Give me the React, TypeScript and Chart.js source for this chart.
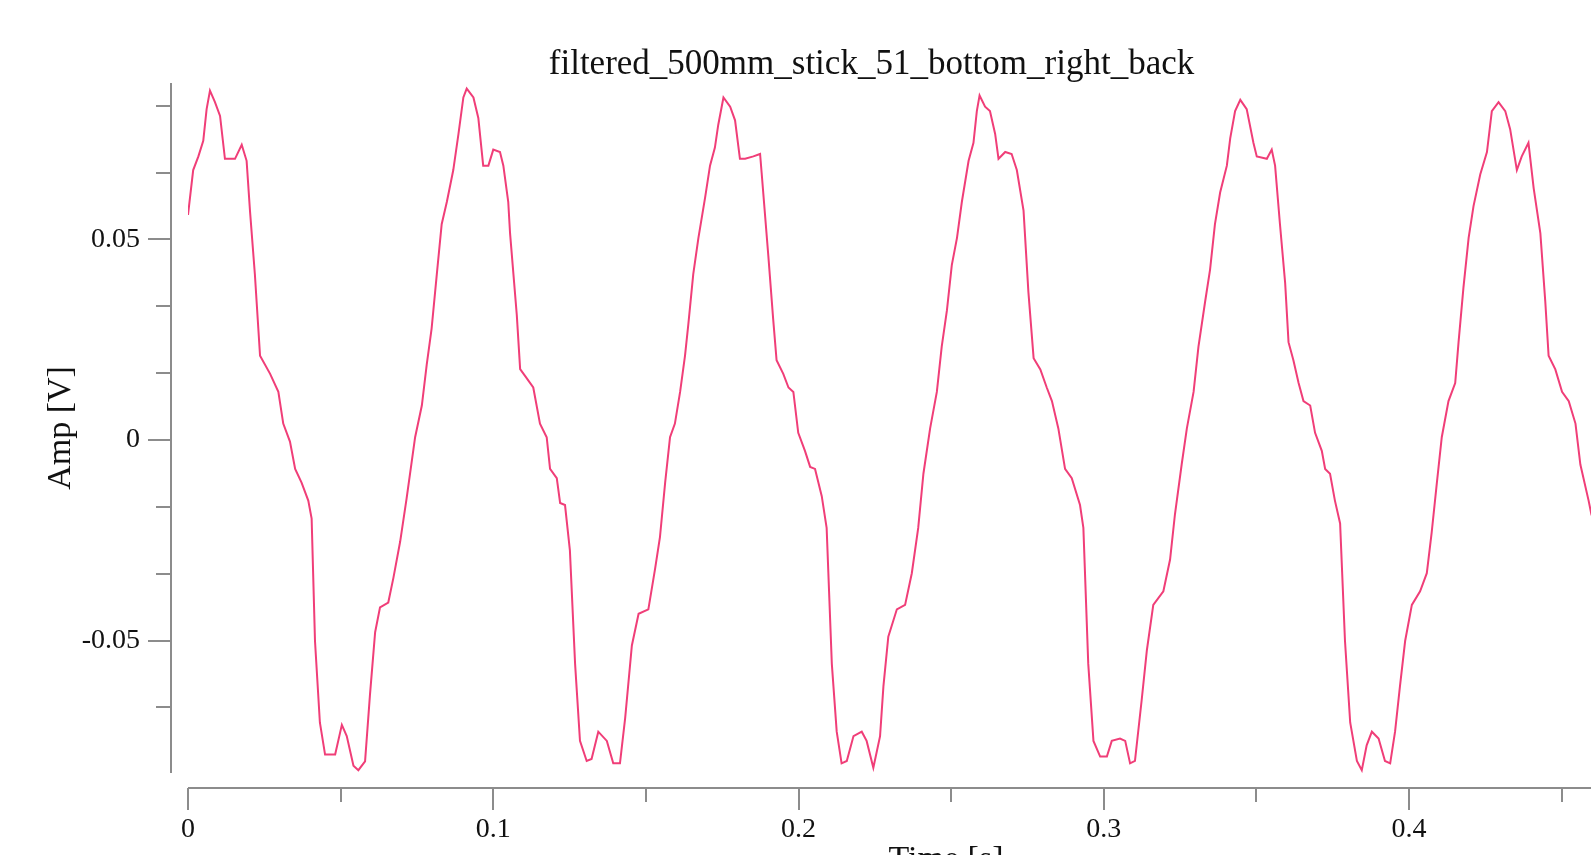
import React, { useEffect, useRef } from 'react';
import { Chart, registerables } from 'chart.js';

Chart.register(...registerables);

const chartTitle = 'filtered_500mm_stick_51_bottom_right_back';
const xAxisTitle = 'Time [s]';
const yAxisTitle = 'Amp [V]';

const xTickValues = [0, 0.1, 0.2, 0.3, 0.4];
const xTickLabels = ['0', '0.1', '0.2', '0.3', '0.4'];
const yTickValues = [-0.05, 0, 0.05];
const yTickLabels = ['-0.05', '0', '0.05'];

const timeValues = [
  0.0000, 0.0017, 0.0034, 0.0050, 0.0061, 0.0072, 0.0088, 0.0105, 0.0121, 0.0154,
  0.0176, 0.0192, 0.0203, 0.0219, 0.0236, 0.0269, 0.0296, 0.0312, 0.0334, 0.0351,
  0.0372, 0.0394, 0.0405, 0.0416, 0.0432, 0.0449, 0.0482, 0.0504, 0.0520, 0.0542,
  0.0558, 0.0580, 0.0596, 0.0613, 0.0629, 0.0656, 0.0673, 0.0695, 0.0716, 0.0744,
  0.0766, 0.0782, 0.0798, 0.0815, 0.0831, 0.0848, 0.0869, 0.0886, 0.0902, 0.0913,
  0.0935, 0.0951, 0.0967, 0.0984, 0.1000, 0.1022, 0.1033, 0.1049, 0.1055, 0.1077,
  0.1088, 0.1104,
  0.1131, 0.1153, 0.1175, 0.1186, 0.1208, 0.1219, 0.1235, 0.1251, 0.1268, 0.1284,
  0.1306, 0.1322, 0.1344, 0.1372, 0.1393, 0.1415, 0.1432, 0.1454, 0.1476, 0.1508,
  0.1530, 0.1546, 0.1563, 0.1579, 0.1595, 0.1612, 0.1628, 0.1639, 0.1655, 0.1672,
  0.1694, 0.1710, 0.1726, 0.1737, 0.1754, 0.1776, 0.1792, 0.1808, 0.1825, 0.1852,
  0.1874, 0.1879, 0.1901, 0.1917, 0.1928, 0.1950, 0.1967, 0.1983, 0.1999, 0.2021,
  0.2038, 0.2054, 0.2076, 0.2092, 0.2109, 0.2125, 0.2141, 0.2158, 0.2180, 0.2207,
  0.2223, 0.2245, 0.2267,
  0.2278, 0.2294, 0.2322, 0.2349, 0.2371, 0.2392, 0.2409, 0.2431, 0.2453, 0.2469,
  0.2486, 0.2502, 0.2519, 0.2535, 0.2557, 0.2573, 0.2584, 0.2593, 0.2611, 0.2627,
  0.2644, 0.2655, 0.2677, 0.2698, 0.2715, 0.2737, 0.2753, 0.2770, 0.2792, 0.2813,
  0.2830, 0.2851, 0.2873, 0.2895, 0.2922, 0.2933, 0.2949, 0.2966, 0.2988, 0.3010,
  0.3026, 0.3053, 0.3070, 0.3086, 0.3102, 0.3124, 0.3141, 0.3162, 0.3195, 0.3217,
  0.3233, 0.3255, 0.3272, 0.3294, 0.3310, 0.3332, 0.3348, 0.3364, 0.3381, 0.3403,
  0.3414, 0.3430, 0.3447, 0.3468, 0.3490, 0.3501, 0.3534, 0.3550, 0.3561, 0.3577,
  0.3594, 0.3605, 0.3621, 0.3638, 0.3654, 0.3676, 0.3692, 0.3714, 0.3725, 0.3741,
  0.3757, 0.3774, 0.3790, 0.3807, 0.3829, 0.3845, 0.3861, 0.3878, 0.3900, 0.3921,
  0.3938, 0.3954, 0.3970, 0.3987, 0.4009, 0.4036, 0.4058, 0.4074, 0.4091, 0.4107,
  0.4129, 0.4151, 0.4162, 0.4178, 0.4195, 0.4211, 0.4233, 0.4255, 0.4271, 0.4293,
  0.4315, 0.4331, 0.4353, 0.4369, 0.4391, 0.4408, 0.4430, 0.4446, 0.4457, 0.4479,
  0.4501, 0.4523, 0.4545, 0.4561, 0.4588, 0.4597, 0.4612,
];

const ampValues = [
  0.0561, 0.0673, 0.0707, 0.0746, 0.0825, 0.0871, 0.0843, 0.0808, 0.0701, 0.0701,
  0.0736, 0.0696, 0.0572, 0.0414, 0.0210, 0.0165, 0.0120, 0.0041, -0.0004, -0.0072,
  -0.0106, -0.0151, -0.0196, -0.0501, -0.0704, -0.0784, -0.0784, -0.0710, -0.0738, -0.0812,
  -0.0823, -0.0801, -0.0636, -0.0479, -0.0417, -0.0405, -0.0343, -0.0253, -0.0146, 0.0007,
  0.0086, 0.0188, 0.0278, 0.0413, 0.0538, 0.0594, 0.0673, 0.0763, 0.0854, 0.0876,
  0.0854, 0.0803, 0.0684, 0.0684, 0.0724, 0.0718, 0.0684, 0.0594, 0.0515, 0.0312,
  0.0177, 0.0160,
  0.0131, 0.0041, 0.0007, -0.0072, -0.0095, -0.0157, -0.0162, -0.0275, -0.0558, -0.0750,
  -0.0800, -0.0795, -0.0727, -0.0750, -0.0806, -0.0806, -0.0693, -0.0512, -0.0433, -0.0422,
  -0.0321, -0.0242, -0.0106, 0.0007, 0.0041, 0.0120, 0.0210, 0.0289, 0.0413, 0.0504,
  0.0605, 0.0684, 0.0729, 0.0786, 0.0854, 0.0831, 0.0797, 0.0701, 0.0701, 0.0707,
  0.0713, 0.0667, 0.0459, 0.0300, 0.0199, 0.0165, 0.0131, 0.0120, 0.0018, -0.0027,
  -0.0067, -0.0072, -0.0140, -0.0219, -0.0558, -0.0727, -0.0806, -0.0800, -0.0738, -0.0727,
  -0.0750, -0.0817, -0.0738,
  -0.0614, -0.0490, -0.0422, -0.0411, -0.0332, -0.0219, -0.0084, 0.0029, 0.0120, 0.0233,
  0.0323, 0.0436, 0.0504, 0.0594, 0.0696, 0.0741, 0.0820, 0.0859, 0.0831, 0.0820,
  0.0763, 0.0701, 0.0718, 0.0713, 0.0673, 0.0572, 0.0368, 0.0204, 0.0176, 0.0131,
  0.0097, 0.0029, -0.0072, -0.0095, -0.0162, -0.0219, -0.0558, -0.0750, -0.0789, -0.0789,
  -0.0750, -0.0744, -0.0750, -0.0806, -0.0800, -0.0648, -0.0524, -0.0411, -0.0377, -0.0298,
  -0.0185, -0.0061, 0.0029, 0.0120, 0.0233, 0.0346, 0.0425, 0.0538, 0.0617, 0.0684,
  0.0752, 0.0820, 0.0848, 0.0825, 0.0741, 0.0707, 0.0701, 0.0724, 0.0684, 0.0538,
  0.0391, 0.0244, 0.0199, 0.0142, 0.0097, 0.0086, 0.0018, -0.0027, -0.0072, -0.0084,
  -0.0151, -0.0208, -0.0501, -0.0704, -0.0800, -0.0823, -0.0761, -0.0727, -0.0744, -0.0800,
  -0.0806, -0.0727, -0.0614, -0.0501, -0.0411, -0.0377, -0.0332, -0.0230, -0.0106, 0.0007,
  0.0097, 0.0142, 0.0244, 0.0380, 0.0504, 0.0583, 0.0662, 0.0718, 0.0820, 0.0842,
  0.0820, 0.0775, 0.0673, 0.0707, 0.0741, 0.0628, 0.0515, 0.0346, 0.0210, 0.0176,
  0.0120, 0.0097, 0.0041, -0.0061, -0.0151, -0.0185, -0.0215,
];

const X_MIN = 0;
const X_MAX = 0.4966;
const Y_MIN = -0.083;
const Y_MAX = 0.089;

const CANVAS_W = 1743;
const CANVAS_H = 880;
const PLOT_RIGHT = 1704;
const SERIF = '"Liberation Serif", "Times New Roman", Times, serif';
const AXIS_COLOR = '#8c8c8c';
const TEXT_COLOR = '#111111';
const LINE_COLOR = 'rgb(240, 62, 120)';

const offsetAxesPlugin = {
  id: 'offsetAxes',
  afterDraw(chart: any) {
    const { ctx, chartArea: ca, scales } = chart;
    const xs = scales.x;
    const ys = scales.y;
    const yLineX = ca.left - 17;
    const xLineY = ca.bottom + 15;
    ctx.save();
    ctx.strokeStyle = AXIS_COLOR;
    ctx.lineWidth = 2;
    ctx.beginPath();
    ctx.moveTo(yLineX, ca.top);
    ctx.lineTo(yLineX, ca.bottom);
    ctx.moveTo(ca.left, xLineY);
    ctx.lineTo(ca.right, xLineY);
    const yStep = 0.05 / 3;
    for (let k = Math.ceil(Y_MIN / yStep - 1e-6); k * yStep <= Y_MAX + 1e-9; k++) {
      const py = Math.round(ys.getPixelForValue(k * yStep));
      const len = k % 3 === 0 ? 23 : 15;
      ctx.moveTo(yLineX - len, py);
      ctx.lineTo(yLineX, py);
    }
    const xStep = 0.05;
    for (let k = 0; k * xStep <= X_MAX + 1e-9; k++) {
      const px = Math.round(xs.getPixelForValue(k * xStep));
      const len = k % 2 === 0 ? 22 : 14;
      ctx.moveTo(px, xLineY);
      ctx.lineTo(px, xLineY + len);
    }
    ctx.stroke();
    ctx.restore();
  },
};

export default function App() {
  const canvasRef = useRef<HTMLCanvasElement>(null);

  useEffect(() => {
    if (!canvasRef.current) return;
    const points = timeValues.map((t, i) => ({ x: t, y: ampValues[i] }));
    const chart = new Chart(canvasRef.current, {
      type: 'line',
      data: {
        datasets: [
          {
            data: points,
            borderColor: LINE_COLOR,
            borderWidth: 2,
            pointRadius: 0,
            tension: 0,
            fill: false,
            xAxisID: 'x',
            yAxisID: 'y',
          },
        ],
      },
      options: {
        responsive: false,
        animation: false,
        devicePixelRatio: 1,
        layout: { padding: 0 },
        plugins: {
          legend: { display: false },
          tooltip: { enabled: false },
          title: {
            display: true,
            text: chartTitle,
            color: TEXT_COLOR,
            font: { family: SERIF, size: 35, weight: 'normal', lineHeight: 1 },
            padding: { top: 47, bottom: 1 },
          },
        },
        scales: {
          x: {
            type: 'linear',
            min: X_MIN,
            max: X_MAX,
            afterBuildTicks: (s: any) => {
              s.ticks = xTickValues.map((v) => ({ value: v }));
            },
            afterFit: (s: any) => {
              s.height = CANVAS_H - 773;
            },
            grid: { display: false, drawTicks: false, tickLength: 0 },
            border: { display: false },
            ticks: {
              padding: 43,
              color: TEXT_COLOR,
              autoSkip: false,
              maxRotation: 0,
              font: { family: SERIF, size: 28, lineHeight: 1 },
              callback: (_v: any, i: number) => xTickLabels[i],
            },
            title: {
              display: true,
              text: xAxisTitle,
              color: TEXT_COLOR,
              font: { family: SERIF, size: 34, lineHeight: 1 },
              padding: { top: 0, bottom: 3 },
            },
          },
          y: {
            type: 'linear',
            min: Y_MIN,
            max: Y_MAX,
            afterBuildTicks: (s: any) => {
              s.ticks = yTickValues.map((v) => ({ value: v }));
            },
            afterFit: (s: any) => {
              s.width = 188;
            },
            grid: { display: false, drawTicks: false, tickLength: 0 },
            border: { display: false },
            ticks: {
              padding: 48,
              color: TEXT_COLOR,
              autoSkip: false,
              font: { family: SERIF, size: 28, lineHeight: 1 },
              callback: (_v: any, i: number) => yTickLabels[i],
            },
            title: {
              display: true,
              text: yAxisTitle,
              color: TEXT_COLOR,
              font: { family: SERIF, size: 34, lineHeight: 1 },
              padding: { top: 44, bottom: 0 },
            },
          },
          spacer: {
            type: 'linear',
            position: 'right',
            display: true,
            afterFit: (s: any) => {
              s.width = CANVAS_W - PLOT_RIGHT;
            },
            grid: { display: false, drawTicks: false },
            border: { display: false },
            ticks: { display: false },
            title: { display: false },
          },
        },
      },
      plugins: [offsetAxesPlugin],
    } as any);
    return () => chart.destroy();
  }, []);

  return (
    <div
      style={{
        position: 'absolute',
        left: 0,
        top: 0,
        width: 1591,
        height: 855,
        overflow: 'hidden',
        background: '#ffffff',
      }}
    >
      <canvas
        ref={canvasRef}
        width={CANVAS_W}
        height={CANVAS_H}
        style={{ display: 'block', width: CANVAS_W, height: CANVAS_H }}
      />
    </div>
  );
}
